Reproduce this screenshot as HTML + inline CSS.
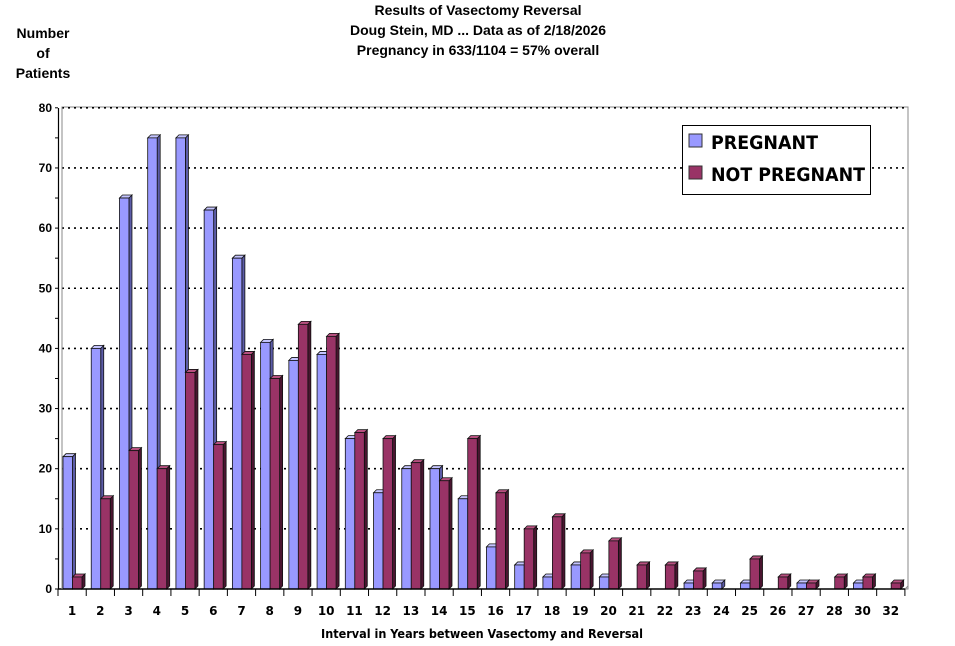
<!DOCTYPE html>
<html><head><meta charset="utf-8"><style>
html,body{margin:0;padding:0;background:#fff;}
svg{display:block;font-family:"Liberation Sans",Arial,sans-serif;}
</style></head><body>
<svg id="c" width="955" height="646" viewBox="0 0 955 646" xmlns="http://www.w3.org/2000/svg">
<g font-weight="bold" font-size="14" text-anchor="middle" fill="#000">
<text x="478" y="15">Results of Vasectomy Reversal</text>
<text x="478" y="35">Doug Stein, MD ... Data as of 2/18/2026</text>
<text x="478" y="55">Pregnancy in 633/1104 = 57% overall</text>
<text x="43" y="38">Number</text>
<text x="43" y="58">of</text>
<text x="43" y="78">Patients</text>
<text x="482" y="638" font-size="12" font-family="'DejaVu Sans',sans-serif" textLength="322" lengthAdjust="spacingAndGlyphs">Interval in Years between Vasectomy and Reversal</text>
</g>
<rect x="62" y="107" width="846" height="482" fill="#fff" stroke="#888" stroke-width="1"/>
<g id="grid"></g>
<g id="bars"></g>
<g id="axes"></g>
<rect x="682.5" y="125.5" width="188" height="69" fill="#fff" stroke="#000"/>
<rect x="689" y="134" width="13" height="13" fill="#9999ff" stroke="#333"/>
<rect x="689" y="166" width="13" height="13" fill="#993366" stroke="#333"/>
<g font-weight="bold" font-size="19" fill="#000" font-family="'DejaVu Sans',sans-serif">
<text x="711" y="149" textLength="107" lengthAdjust="spacingAndGlyphs">PREGNANT</text>
<text x="711" y="181" textLength="154" lengthAdjust="spacingAndGlyphs">NOT PREGNANT</text>
</g>
</svg>
<script>
var NS="http://www.w3.org/2000/svg";
function el(p,t,a){var e=document.createElementNS(NS,t);for(var k in a)e.setAttribute(k,a[k]);p.appendChild(e);return e;}
var grid=document.getElementById('grid'),bars=document.getElementById('bars'),axes=document.getElementById('axes');
var y0=589,py=6.015,x0=58,cw=28.23;
for(var v=10;v<=80;v+=10){var y=y0-v*py;
 el(grid,'line',{x1:62,x2:908,y1:y,y2:y,stroke:'#000','stroke-width':1.6,'stroke-dasharray':'2,4'});}
var labels=[1,2,3,4,5,6,7,8,9,10,11,12,13,14,15,16,17,18,19,20,21,22,23,24,25,26,27,28,30,32];
var P=[22,40,65,75,75,63,55,41,38,39,25,16,20,20,15,7,4,2,4,2,0,0,1,1,1,0,1,0,1,0];
var N=[2,15,23,20,36,24,39,35,44,42,26,25,21,18,25,16,10,12,6,8,4,4,3,0,5,2,1,2,2,1];
function bar(x,v,f,s,t){if(v<=0)return;var h=v*py,w=9.5,d=3,top=y0-h;
 el(bars,'polygon',{points:(x+w)+','+top+' '+(x+w+d)+','+(top-d)+' '+(x+w+d)+','+(y0-d)+' '+(x+w)+','+y0,fill:s,stroke:'#111','stroke-width':0.8});
 el(bars,'polygon',{points:x+','+top+' '+(x+d)+','+(top-d)+' '+(x+w+d)+','+(top-d)+' '+(x+w)+','+top,fill:t,stroke:'#111','stroke-width':0.8});
 el(bars,'rect',{x:x,y:top,width:w,height:h,fill:f,stroke:'#111','stroke-width':0.8});}
for(var i=0;i<30;i++){var cx=x0+i*cw;
 bar(cx+5,P[i],'#9999ff','#5c5ca8','#c4c4ff');
 bar(cx+14.5,N[i],'#993366','#4a1530','#b85080');}
el(axes,'line',{x1:58,x2:905,y1:589,y2:589,stroke:'#000','stroke-width':1.5});
el(axes,'line',{x1:905,x2:908,y1:589,y2:586,stroke:'#888'});
el(axes,'line',{x1:58.5,x2:58.5,y1:108,y2:589,stroke:'#000','stroke-width':1.2});
el(axes,'line',{x1:62,x2:62,y1:107,y2:589,stroke:'#888'});
for(var v=0;v<=80;v+=5){var y=y0-v*py;el(axes,'line',{x1:55,x2:58,y1:y,y2:y,stroke:'#000'});
 if(v%10==0){var t=el(axes,'text',{x:52,y:y+4,'text-anchor':'end','font-size':12,'font-weight':'bold'});t.textContent=v;}}
for(var i=0;i<=30;i++){var x=x0+i*cw;el(axes,'line',{x1:x,x2:x,y1:589,y2:596,stroke:'#000'});
 if(i<30){var t=el(axes,'text',{x:x+cw/2,y:615,'text-anchor':'middle','font-size':12,'font-weight':'bold','font-family':"'DejaVu Sans',sans-serif"});t.textContent=labels[i];}}
</script>
</body></html>
